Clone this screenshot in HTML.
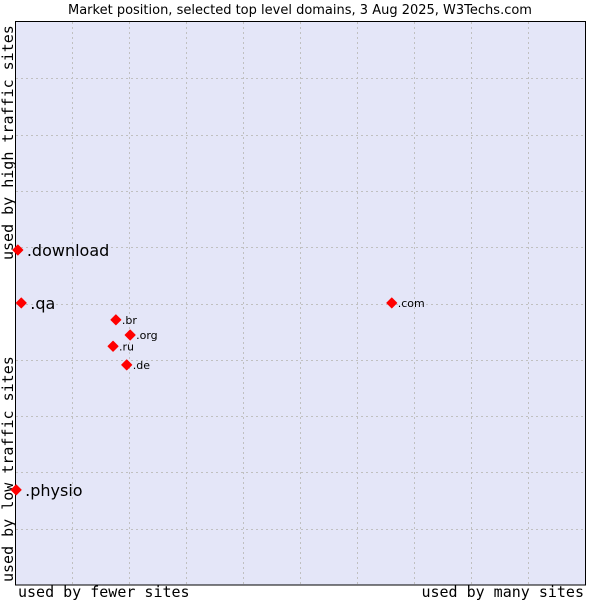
<!DOCTYPE html>
<html><head><meta charset="utf-8"><style>
body{margin:0;background:#fff;}
svg{display:block;font-family:"DejaVu Sans","Liberation Sans",sans-serif;}
</style></head><body>
<svg id="chart" width="600" height="600">
<text x="300" y="14" text-anchor="middle" font-size="13" fill="#000">Market position, selected top level domains, 3 Aug 2025, W3Techs.com</text>
<rect x="15.5" y="21.5" width="570" height="563.5" fill="#e4e6f8" stroke="#000" stroke-width="1"/>
<g id="grid"></g>
<line x1="15.5" y1="21" x2="15.5" y2="585" stroke="#000"/>
<line x1="15" y1="585" x2="586" y2="585" stroke="#000"/>
<text x="18" y="597" font-family="DejaVu Sans Mono,monospace" font-size="15">used by fewer sites</text>
<text x="584" y="597" text-anchor="end" font-family="DejaVu Sans Mono,monospace" font-size="15">used by many sites</text>
<text transform="translate(13,582) rotate(-90)" font-family="DejaVu Sans Mono,monospace" font-size="15">used by low traffic sites</text>
<text transform="translate(13,260) rotate(-90)" font-family="DejaVu Sans Mono,monospace" font-size="15">used by high traffic sites</text>
<g id="points"></g>
</svg>
<script>
const names=[".download",".qa",".br",".org",".ru",".de",".com",".physio"];
const xVals=[0.5,1.1,17.7,20.2,17.2,19.6,66.1,0.2];
const yVals=[59.5,50.1,47.1,44.4,42.4,39.1,50.1,16.9];
const bigLabel=[true,true,false,false,false,false,false,true];
const NS="http://www.w3.org/2000/svg";
const x=v=>15+v*5.7, y=v=>585-v*5.63;
const grid=document.getElementById('grid');
for(let i=1;i<10;i++){
  const l=document.createElementNS(NS,'line');
  l.setAttribute('x1',x(i*10)+0.5);l.setAttribute('x2',x(i*10)+0.5);l.setAttribute('y1',22);l.setAttribute('y2',585);
  l.setAttribute('stroke','#c0c0c0');l.setAttribute('stroke-dasharray','2,3');
  
  
  grid.appendChild(l);
  const h=document.createElementNS(NS,'line');
  h.setAttribute('x1',16);h.setAttribute('x2',585);h.setAttribute('y1',Math.round(y(i*10))+0.5);h.setAttribute('y2',Math.round(y(i*10))+0.5);
  h.setAttribute('stroke','#c0c0c0');h.setAttribute('stroke-dasharray','2,3');
  
  
  grid.appendChild(h);
}
const pts=document.getElementById('points');
names.forEach((n,i)=>{
  const px=x(xVals[i]),py=y(yVals[i]);
  const d=document.createElementNS(NS,'path');
  d.setAttribute('d',`M${px-5},${py}L${px},${py-5}L${px+5},${py}L${px},${py+5}Z`);
  d.setAttribute('fill','#ff0000');
  d.setAttribute('stroke','#ff0000');
  d.setAttribute('stroke-width','1');
  d.setAttribute('stroke-linejoin','round');
  
  
  pts.appendChild(d);
  const t=document.createElementNS(NS,'text');
  t.setAttribute('x',px+(bigLabel[i]?9:6));
  t.setAttribute('y',py+(bigLabel[i]?6:4));
  t.setAttribute('font-size',bigLabel[i]?16:11);
  t.textContent=n;
  
  
  pts.appendChild(t);
});
</script>
</body></html>
